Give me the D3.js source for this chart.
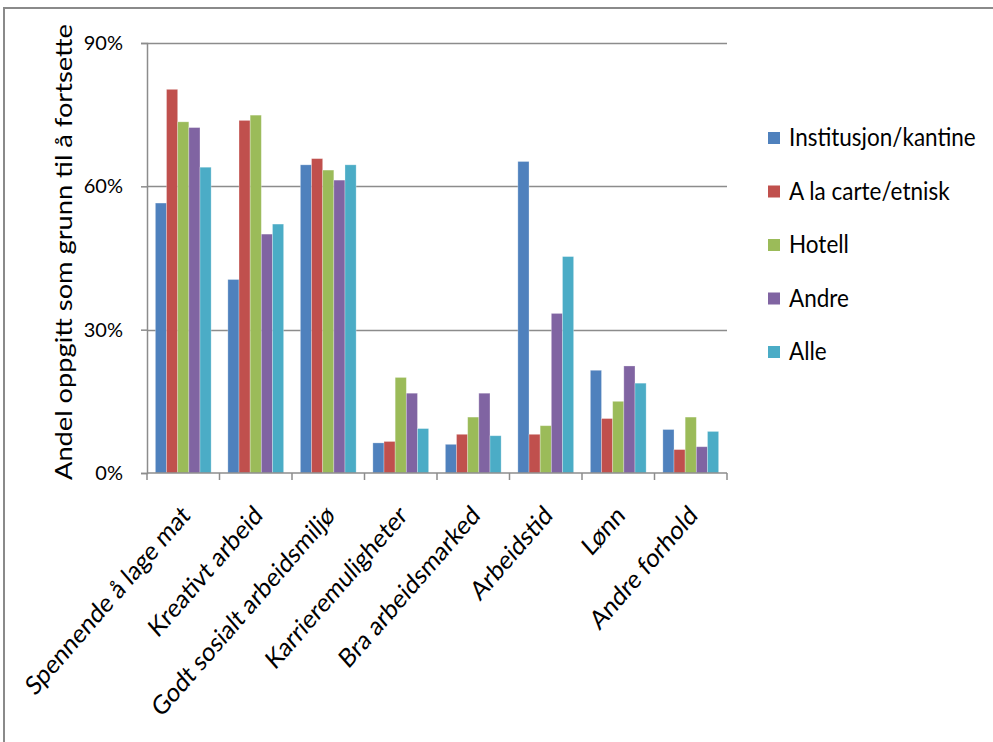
<!DOCTYPE html>
<html>
<head>
<meta charset="utf-8">
<script src="https://cdn.jsdelivr.net/npm/d3@7"></script>
<style>
  html, body { margin: 0; padding: 0; background: #fff; }
  svg { display: block; }
  text { font-family: Lato, "Open Sans", sans-serif; fill: #000; }
</style>
</head>
<body>
<script>
// Reasons given for continuing, share of respondents by workplace type
const categories = [
  "Spennende å lage mat", "Kreativt arbeid", "Godt sosialt arbeidsmiljø",
  "Karrieremuligheter", "Bra arbeidsmarked", "Arbeidstid", "Lønn", "Andre forhold"
];
const seriesNames = ["Institusjon/kantine", "A la carte/etnisk", "Hotell", "Andre", "Alle"];
const seriesColors = ["#4F81BD", "#C0504D", "#9BBB59", "#8064A2", "#4BACC6"];

const institusjon = [56.5, 40.5, 64.5, 6.3, 6.0, 65.2, 21.5, 9.1];
const alacarte    = [80.3, 73.8, 65.8, 6.6, 8.1, 8.1, 11.4, 4.9];
const hotell      = [73.5, 74.9, 63.4, 20.0, 11.7, 9.9, 15.0, 11.7];
const andre       = [72.3, 50.0, 61.3, 16.7, 16.7, 33.4, 22.4, 5.5];
const alle        = [64.0, 52.1, 64.5, 9.3, 7.8, 45.3, 18.8, 8.7];
const seriesValues = [institusjon, alacarte, hotell, andre, alle];

const yTicks = [0, 30, 60, 90];
const yTitle = "Andel oppgitt som grunn til å fortsette";

const W = 993, H = 742;
const plot = { left: 147, top: 43, right: 727, bottom: 473 };
// text glyphs are drawn slightly tall and narrow
const stretchY = 1.15;

const svg = d3.select("body").append("svg").attr("width", W).attr("height", H);

// outer chart frame
svg.append("rect")
  .attr("x", 4).attr("y", 8).attr("width", W + 10).attr("height", H + 10)
  .attr("fill", "none").attr("stroke", "#8a8a8a").attr("stroke-width", 2);

const gap = 1.5 / 6.5;
const x0 = d3.scaleBand().domain(categories)
  .range([plot.left, plot.right]).paddingInner(gap).paddingOuter(gap / 2);
const x1 = d3.scaleBand().domain(seriesNames).range([0, x0.bandwidth()]);
const y = d3.scaleLinear().domain([0, 90]).range([plot.bottom, plot.top]);

// horizontal gridlines
svg.append("g").selectAll("line").data(yTicks.filter(d => d > 0)).join("line")
  .attr("x1", plot.left).attr("x2", plot.right)
  .attr("y1", d => Math.round(y(d)) + 0.5).attr("y2", d => Math.round(y(d)) + 0.5)
  .attr("stroke", "#8c8c8c").attr("stroke-width", 1.5);

// bars
const groups = svg.append("g").selectAll("g")
  .data(categories.map((c, i) => ({ c, vals: seriesValues.map((s, k) => ({ name: seriesNames[k], v: s[i], k })) })))
  .join("g")
  .attr("transform", d => `translate(${x0(d.c)},0)`);

groups.selectAll("rect").data(d => d.vals).join("rect")
  .attr("x", d => x1(d.name))
  .attr("width", x1.bandwidth())
  .attr("y", d => y(d.v))
  .attr("height", d => y(0) - y(d.v))
  .attr("fill", d => seriesColors[d.k])
  .attr("stroke", "rgba(255,255,255,0.35)")
  .attr("stroke-width", 0.8);

// y axis
const yAxis = svg.append("g")
  .attr("transform", `translate(${plot.left},0)`)
  .call(d3.axisLeft(y).tickValues(yTicks).tickFormat(d => d + "%").tickSize(6).tickPadding(18));
yAxis.select(".domain").attr("stroke", "#8c8c8c").attr("stroke-width", 1.5);
yAxis.selectAll(".tick line").attr("stroke", "#8c8c8c").attr("stroke-width", 1.5);
yAxis.selectAll(".tick text").style("font-size", "20px").style("font-family", "Lato, sans-serif").attr("fill", "#000");

// x axis with tick marks between categories
const xAxisG = svg.append("g");
xAxisG.append("line")
  .attr("x1", plot.left).attr("x2", plot.right)
  .attr("y1", plot.bottom).attr("y2", plot.bottom)
  .attr("stroke", "#8c8c8c").attr("stroke-width", 1.5);
const step = x0.step();
const boundaries = d3.range(categories.length + 1).map(i => plot.left + i * step);
xAxisG.selectAll("line.tk").data(boundaries).join("line").attr("class", "tk")
  .attr("x1", d => d).attr("x2", d => d)
  .attr("y1", plot.bottom).attr("y2", plot.bottom + 7)
  .attr("stroke", "#8c8c8c").attr("stroke-width", 1.5);

xAxisG.selectAll("text").data(categories).join("text")
  .attr("transform", d => `translate(${x0(d) + x0.bandwidth() / 2 + 8},${plot.bottom + 44}) scale(1,${stretchY}) rotate(-45)`)
  .attr("text-anchor", "end")
  .style("font-size", "23px")
  .text(d => d);

// y axis title
svg.append("text")
  .attr("transform", `translate(72,${(plot.top + plot.bottom) / 2 - 6}) rotate(-90)`)
  .attr("text-anchor", "middle")
  .attr("textLength", 456)
  .attr("lengthAdjust", "spacingAndGlyphs")
  .style("font-size", "23px")
  .text(yTitle);

// legend
const legend = svg.append("g").attr("transform", "translate(768,138)");
const item = legend.selectAll("g").data(seriesNames).join("g")
  .attr("transform", (d, i) => `translate(0,${i * 53.5})`);
item.append("rect")
  .attr("x", 0).attr("y", -6).attr("width", 12).attr("height", 12)
  .attr("fill", (d, i) => seriesColors[i]);
item.append("text")
  .attr("transform", `translate(21,8) scale(1,${stretchY})`)
  .style("font-size", "22.5px")
  .text(d => d);
</script>
</body>
</html>
